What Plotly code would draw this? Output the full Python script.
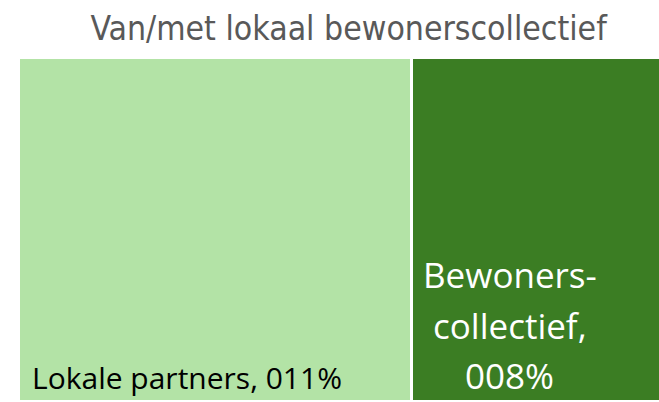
import plotly.graph_objects as go

categories = ["Lokale partners", "Bewonerscollectief"]
values = [11, 8]
left_label = "Lokale partners, 011%"
right_label_lines = ["Bewoners-", "collectief,", "008%"]
colors = ["#b3e3a6", "#3b7d23"]

x_centers = []
acc = 0
for v in values:
    x_centers.append(acc + v / 2)
    acc += v

fig = go.Figure()
for i, (c, v) in enumerate(zip(categories, values)):
    fig.add_trace(go.Bar(
        x=[x_centers[i]], y=[1], width=[v], name=c,
        marker=dict(color=colors[i], line=dict(color="white", width=3)),
        hoverinfo="name",
    ))

label_font = "Open Sans, Segoe UI, sans-serif"
fig.add_annotation(x=0.3, y=0.0, xref="x", yref="y", text=left_label,
                   xanchor="left", yanchor="bottom", showarrow=False, yshift=2,
                   font=dict(family=label_font, size=30, color="#000000"))
for line, shift in zip(right_label_lines, [102, 51, 1]):
    fig.add_annotation(x=values[0] + 2.73, y=0.0, xref="x", yref="y", text=line,
                       xanchor="center", yanchor="bottom", showarrow=False, yshift=shift,
                       font=dict(family=label_font, size=35, color="#ffffff"))

fig.update_layout(
    width=659, height=402,
    margin=dict(l=19, r=0, t=58, b=0),
    paper_bgcolor="white", plot_bgcolor="white",
    showlegend=False, bargap=0,
    title=dict(text="Van/met lokaal bewonerscollectief", x=0.529, xanchor="center",
               y=0.93, yanchor="middle",
               font=dict(family="Liberation Sans Narrow, DejaVu Sans Condensed, sans-serif",
                         size=33.5, color="#595959")),
    xaxis=dict(range=[0, 17.9], visible=False, fixedrange=True),
    yaxis=dict(range=[0, 1], visible=False, fixedrange=True),
)

fig.write_html("out.html", config={"displayModeBar": False},
               post_script="document.body.style.margin='0';document.body.style.overflow='hidden';")
